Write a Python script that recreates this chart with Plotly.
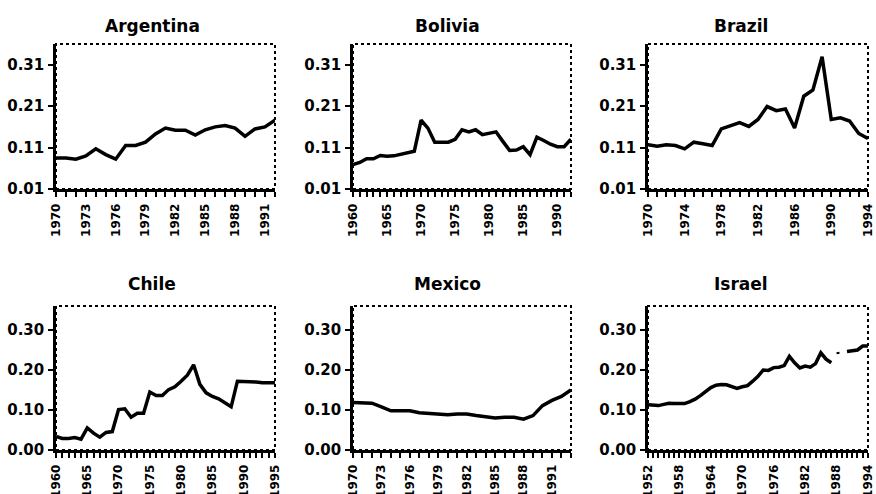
import plotly.graph_objects as go

# ---------------- data ----------------
arg_years = list(range(1970, 1993))
arg_vals = [0.085, 0.085, 0.082, 0.090, 0.107, 0.093, 0.082, 0.115, 0.115, 0.123,
            0.143, 0.157, 0.152, 0.152, 0.140, 0.153, 0.160, 0.163, 0.157, 0.137,
            0.155, 0.160, 0.176]

bol_years = list(range(1960, 1993))
bol_vals = [0.069, 0.074, 0.083, 0.083, 0.091, 0.089, 0.090, 0.094, 0.098, 0.101,
            0.176, 0.157, 0.123, 0.123, 0.123, 0.130, 0.153, 0.148, 0.153, 0.141,
            0.145, 0.148, 0.125, 0.103, 0.104, 0.112, 0.093, 0.135, 0.127, 0.118,
            0.112, 0.112, 0.130]

bra_years = list(range(1970, 1995))
bra_vals = [0.117, 0.113, 0.117, 0.115, 0.107, 0.123, 0.119, 0.115, 0.155, 0.163,
            0.170, 0.161, 0.178, 0.209, 0.199, 0.203, 0.157, 0.234, 0.249, 0.329,
            0.178, 0.182, 0.174, 0.144, 0.132]

chi_years = list(range(1960, 1996))
chi_vals = [0.034, 0.029, 0.029, 0.031, 0.027, 0.055, 0.042, 0.032, 0.044, 0.046,
            0.101, 0.103, 0.082, 0.092, 0.092, 0.145, 0.136, 0.136, 0.151, 0.158,
            0.172, 0.187, 0.213, 0.164, 0.143, 0.134, 0.128, 0.119, 0.108, 0.172,
            0.172, 0.172, 0.170, 0.168, 0.168, 0.168]

mex_years = list(range(1970, 1994))
mex_vals = [0.119, 0.119, 0.117, 0.108, 0.098, 0.098, 0.098, 0.093, 0.092, 0.090,
            0.088, 0.090, 0.090, 0.086, 0.082, 0.080, 0.082, 0.082, 0.077, 0.086,
            0.111, 0.124, 0.134, 0.150]

isr_years = list(range(1952, 1995))
isr_vals = [0.113, 0.112, 0.111, 0.114, 0.117, 0.116, 0.115, 0.116, 0.121, 0.127,
            0.136, 0.146, 0.156, 0.162, 0.164, 0.163, 0.158, 0.154, 0.158, 0.161,
            0.172, 0.184, 0.200, 0.199, 0.206, 0.207, 0.211, 0.234, 0.218, 0.205,
            0.210, 0.207, 0.216, 0.243, 0.227, 0.218, None, None, 0.246, 0.247,
            0.250, 0.260, 0.260]
isr_gap_years = [1988, 1989]
isr_gap_vals = [0.242, 0.244]

titles = ["Argentina", "Bolivia", "Brazil", "Chile", "Mexico", "Israel"]
x_ranges = [[1970, 1992], [1960, 1992], [1970, 1994],
            [1960, 1995], [1970, 1993], [1952, 1994]]
x_tick_start = [1970, 1960, 1970, 1960, 1970, 1952]
x_tick_step = [3, 5, 4, 5, 3, 6]
top_yticks = [0.01, 0.11, 0.21, 0.31]
top_yticklabels = ["0.01", "0.11", "0.21", "0.31"]
bot_yticks = [0.0, 0.1, 0.2, 0.3]
bot_yticklabels = ["0.00", "0.10", "0.20", "0.30"]

series = [(arg_years, arg_vals), (bol_years, bol_vals), (bra_years, bra_vals),
          (chi_years, chi_vals), (mex_years, mex_vals), (isr_years, isr_vals)]

# ---------------- layout geometry (pixels) ----------------
W, H = 876, 494
col_px = [(56, 275), (353, 571), (648, 868)]
row_px = [(44, 189), (306, 450)]
title_x_px = [152, 447, 741]
title_y_px = [26, 284]

fig = go.Figure()
layout = dict(width=W, height=H, margin=dict(l=0, r=0, t=0, b=0, autoexpand=False),
              paper_bgcolor="white", plot_bgcolor="white", showlegend=False)

tick_font_y = dict(family="DejaVu Sans", size=15, color="black", weight="bold")
tick_font_x = dict(family="DejaVu Sans", size=12, color="black", weight="bold")

shapes = []
annotations = []
for i in range(6):
    r, c = divmod(i, 3)
    n = "" if i == 0 else str(i + 1)
    xa, ya = "x" + n, "y" + n
    x0, x1 = col_px[c]
    yt, yb = row_px[r]
    yrng = [0.01, 0.36] if r == 0 else [0.0, 0.36]
    ytv = top_yticks if r == 0 else bot_yticks
    ytt = top_yticklabels if r == 0 else bot_yticklabels
    xr = [x_ranges[i][0], x_ranges[i][1] + 0.01]
    layout["xaxis" + n] = dict(
        domain=[x0 / W, x1 / W], anchor=ya, range=xr, automargin=False,
        showgrid=False, zeroline=False, showline=True, linecolor="black", linewidth=2.5,
        ticks="outside", ticklen=5, tickwidth=1.5, tickcolor="black",
        tick0=x_tick_start[i], dtick=x_tick_step[i], tickangle=-90,
        tickfont=tick_font_x, ticklabelstandoff=2, ticklabeloverflow="allow",
        minor=dict(dtick=1, tick0=x_tick_start[i], ticks="outside", ticklen=5,
                   tickwidth=1.5, tickcolor="black", showgrid=False))
    layout["yaxis" + n] = dict(
        domain=[1 - yb / H, 1 - yt / H], anchor=xa, range=yrng, automargin=False,
        showgrid=False, zeroline=False, showline=True, linecolor="black", linewidth=2.5,
        ticks="outside", ticklen=5, tickwidth=1.5, tickcolor="black",
        tickvals=ytv, ticktext=ytt, tickfont=tick_font_y, ticklabelstandoff=1)
    shapes.append(dict(type="rect", xref=xa + " domain", yref=ya + " domain",
                       x0=0, x1=1, y0=0, y1=1,
                       line=dict(color="black", width=2, dash="dot"), layer="below"))
    annotations.append(dict(text="<b>" + titles[i] + "</b>", xref="paper", yref="paper",
                            x=title_x_px[c] / W, y=1 - title_y_px[r] / H,
                            xanchor="center", yanchor="middle", showarrow=False,
                            font=dict(family="DejaVu Sans", size=17, color="black")))
    xs, ys = series[i]
    fig.add_trace(go.Scatter(x=xs, y=ys, mode="lines", xaxis=xa, yaxis=ya,
                             line=dict(color="black", width=3.5),
                             connectgaps=False, hoverinfo="skip"))

fig.add_trace(go.Scatter(x=isr_gap_years, y=isr_gap_vals, mode="lines",
                         xaxis="x6", yaxis="y6",
                         line=dict(color="black", width=2, dash="dot"), hoverinfo="skip"))

layout["shapes"] = shapes
layout["annotations"] = annotations
fig.update_layout(**layout)
fig.write_html("out.html", config={"displayModeBar": False},
               post_script="document.body.style.margin='0';document.body.style.overflow='hidden';")
